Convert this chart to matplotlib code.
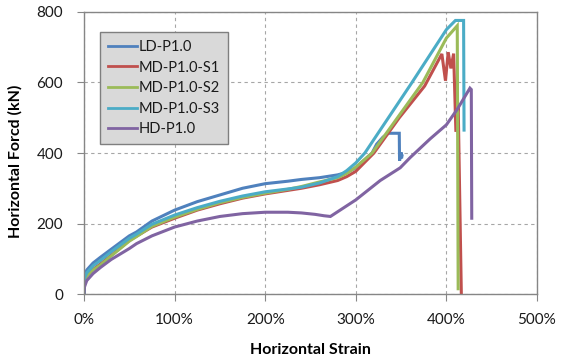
import matplotlib
matplotlib.use('Agg')
import matplotlib.pyplot as plt
from matplotlib.ticker import PercentFormatter

plt.rcParams['font.family'] = ['Lato', 'DejaVu Sans']

# strain in %, force in kN
ld_strain = [0, 0.5, 3, 10, 18, 30, 50, 58, 75, 100, 125, 150, 175, 200, 225, 240, 260, 280, 290,
             300, 318, 323, 330, 336, 348, 348.3, 350, 350.5, 351]
ld_force = [0, 50, 68, 88, 104, 127, 165, 176, 207, 238, 262, 281, 300, 313, 320, 325, 330, 338, 345,
            358, 400, 425, 445, 456, 456, 378, 402, 385, 392]

s1_strain = [0, 0.5, 3, 10, 18, 30, 50, 75, 100, 125, 150, 175, 200, 225, 240, 260, 280, 290,
             300, 320, 348, 376, 395, 399, 402, 405, 408, 410.5, 413, 416.5]
s1_force = [0, 38, 52, 70, 85, 110, 152, 190, 215, 238, 256, 272, 284, 294, 300, 310, 322, 333,
            348, 400, 500, 590, 681, 605, 686, 640, 682, 460, 540, 0]

s2_strain = [0, 0.5, 3, 10, 18, 30, 50, 58, 75, 100, 125, 150, 175, 200, 225, 240, 260, 280, 290,
             300, 318, 346, 374, 400, 412, 412.5, 413]
s2_force = [0, 35, 50, 68, 82, 108, 150, 163, 192, 218, 240, 259, 274, 286, 297, 305, 318, 330, 342,
            360, 400, 500, 600, 726, 761, 400, 15]

s3_strain = [0, 0.5, 3, 10, 18, 30, 50, 58, 75, 100, 125, 150, 175, 200, 225, 240, 260, 280, 290,
             300, 310, 362, 400, 410, 419, 419.5]
s3_force = [0, 45, 60, 80, 95, 120, 158, 170, 198, 224, 245, 263, 278, 290, 298, 303, 315, 333, 350,
            372, 400, 600, 750, 776, 776, 465]

hd_strain = [0, 0.5, 3, 10, 18, 30, 50, 58, 75, 100, 125, 150, 175, 200, 225, 240, 255, 265, 272,
             300, 327, 349, 360, 382, 400, 412, 426, 427.5, 428]
hd_force = [0, 20, 38, 58, 75, 98, 129, 143, 165, 190, 207, 220, 228, 232, 232, 230, 226, 222, 220,
            267, 322, 358, 387, 440, 480, 524, 584, 580, 215]

labels = ['LD-P1.0', 'MD-P1.0-S1', 'MD-P1.0-S2', 'MD-P1.0-S3', 'HD-P1.0']
colors = ['#4F81BD', '#C0504D', '#9BBB59', '#4BACC6', '#8064A2']

fig = plt.figure(figsize=(5.65, 3.59), dpi=100)
ax = fig.add_axes([0.1487, 0.181, 0.8017, 0.7856])

series = [(ld_strain, ld_force), (s1_strain, s1_force), (s2_strain, s2_force),
          (s3_strain, s3_force), (hd_strain, hd_force)]
for (x, y), lab, c in zip(series, labels, colors):
    ax.plot(x, y, color=c, linewidth=2.2, label=lab, solid_joinstyle='miter')

ax.set_xlim(0, 500)
ax.set_ylim(0, 800)
ax.set_xticks([0, 100, 200, 300, 400, 500])
ax.set_yticks([0, 200, 400, 600, 800])
ax.xaxis.set_major_formatter(PercentFormatter(xmax=100, decimals=0))

ax.grid(True, color='#a6a6a6', linestyle=(0, (3, 3)), linewidth=0.8)
ax.set_axisbelow(True)
for sp in ax.spines.values():
    sp.set_color('#868686')
    sp.set_linewidth(1.0)
ax.tick_params(axis='both', direction='out', length=5, color='#868686',
               labelsize=11, labelcolor='#1a1a1a')
ax.tick_params(axis='x', pad=9)
ax.tick_params(axis='y', pad=10)

ax.set_xlabel('Horizontal Strain', fontsize=11.5, fontweight='bold')
ax.set_ylabel('Horizontal Forcd (kN)', fontsize=11.5, fontweight='bold')
ax.xaxis.set_label_coords(0.5, -0.175)
ax.yaxis.set_label_coords(-0.135, 0.47)

leg = ax.legend(loc='upper left', bbox_to_anchor=(0.035, 0.929), fontsize=10.5,
                frameon=True, fancybox=False, borderpad=0.55, labelspacing=0.45,
                handlelength=2.0, handletextpad=0.1, borderaxespad=0)
leg.get_frame().set_facecolor('#d9d9d9')
leg.get_frame().set_edgecolor('#7f7f7f')
leg.get_frame().set_alpha(1)
leg.get_frame().set_linewidth(1.0)
for t in leg.get_texts():
    t.set_color('#1a1a1a')
for h in leg.legend_handles:
    h.set_linewidth(2.0)

fig.savefig('out.png', dpi=100)
